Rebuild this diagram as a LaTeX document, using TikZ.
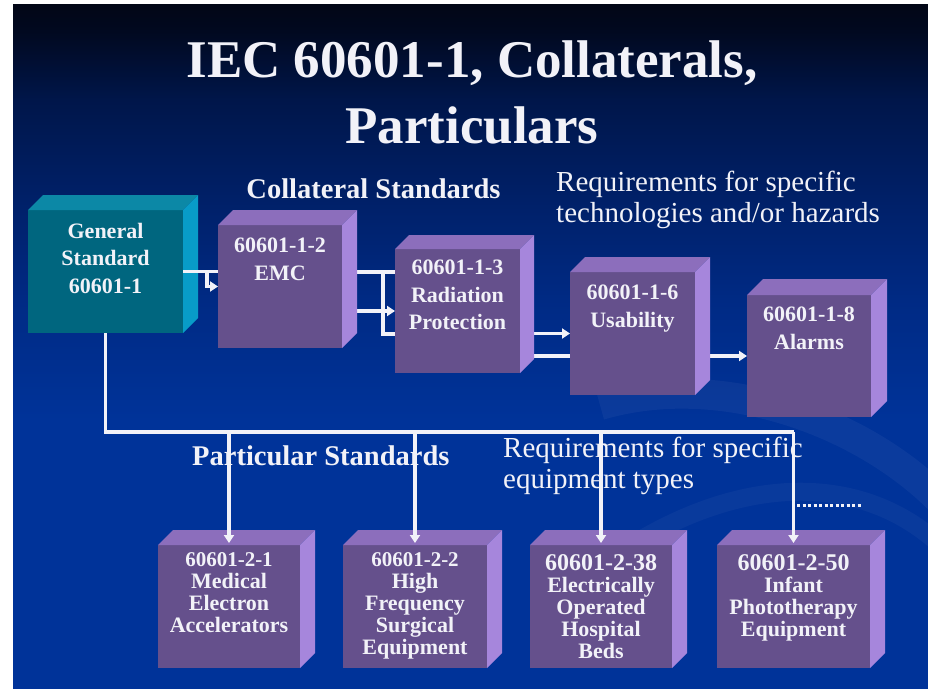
\documentclass[tikz,border=0pt]{standalone}
\usepackage{fontspec}
\setmainfont{Liberation Serif}
\usetikzlibrary{arrows.meta,calc}
\pgfdeclarelayer{backlayer}
\pgfdeclarelayer{connlayer}
\pgfsetlayers{backlayer,connlayer,main}
\definecolor{bgA}{RGB}{0,51,153}
\definecolor{bgB}{RGB}{0,42,132}
\definecolor{bgC}{RGB}{0,32,104}
\definecolor{bgD}{RGB}{0,22,74}
\definecolor{bgE}{RGB}{1,9,32}
\definecolor{bgF}{RGB}{2,6,22}
\definecolor{tealfront}{RGB}{0,102,127}
\definecolor{tealtop}{RGB}{12,136,166}
\definecolor{tealside}{RGB}{8,156,200}
\definecolor{purpfront}{RGB}{101,80,140}
\definecolor{purptop}{RGB}{140,110,188}
\definecolor{purpside}{RGB}{166,134,220}
\definecolor{txtwhite}{RGB}{242,242,248}
\pgfdeclareverticalshading{slidebg}{100bp}{color(0bp)=(bgA); color(44.6bp)=(bgA); color(53.4bp)=(bgB); color(60.7bp)=(bgC); color(68bp)=(bgD); color(73bp)=(bgE); color(75bp)=(bgF); color(100bp)=(bgF)}
\newcommand\mycube[7]{%
  \node[face, fill=#7front, minimum width=#4pt, minimum height=#5pt, anchor=north west] (#1) at (#2,#3) {};
  \fill[#7top] (#1.north west) -- ++(#6,-#6) -- ([shift={(#6,-#6)}]#1.north east) -- (#1.north east) -- cycle;
  \fill[#7side] (#1.north east) -- ++(#6,-#6) -- ([shift={(#6,-#6)}]#1.south east) -- (#1.south east) -- cycle;
}
\begin{document}
\begin{tikzpicture}[x=1pt,y=-1pt,
  face/.style={draw=none, inner sep=0pt, outer sep=0pt},
  conn/.style={draw=txtwhite, line width=3.5pt},
  arr/.style={-{Triangle[length=8pt,width=10pt]}},
  dots/.style={draw=txtwhite, line width=3pt, dash pattern=on 3pt off 2.5pt},
  boxtxt/.style={text=txtwhite, font=\bfseries\fontsize{22}{27.5}\selectfont, align=center, anchor=north, inner sep=0pt},
  btxt/.style={text=txtwhite, font=\bfseries\fontsize{22}{22}\selectfont, align=center, anchor=north, inner sep=0pt},
  headtxt/.style={text=txtwhite, font=\bfseries\fontsize{28.5}{30}\selectfont, inner sep=0pt},
  reqtxt/.style={text=txtwhite, font=\fontsize{29}{31.5}\selectfont, align=left, anchor=north west, inner sep=0pt},
  titletxt/.style={text=txtwhite, font=\bfseries\fontsize{53}{60}\selectfont, inner sep=0pt, anchor=base}]
\useasboundingbox (0,0) rectangle (928,688);
\begin{pgfonlayer}{backlayer}
\fill[white] (0,0) rectangle (928,688);
\shade[shading=slidebg] (13,4) rectangle (928,688);
\begin{scope}
\clip (13,4) rectangle (928,688);
\draw[white, opacity=0.045, line width=30pt] (600,405) .. controls (720,370) and (860,420) .. (940,500);
\draw[white, opacity=0.035, line width=18pt] (640,540) .. controls (760,470) and (870,480) .. (940,545);
\end{scope}
\end{pgfonlayer}
% title
\node[titletxt] (t1) at (472,77) {IEC 60601-1, Collaterals,};
\node[titletxt] (t2) at (472,143) {Particulars};
% cubes
\mycube{gen}{28}{210}{155}{123}{15}{teal}
\mycube{emc}{218}{225}{124}{123}{15}{purp}
\mycube{rad}{395}{249}{125}{124}{14}{purp}
\mycube{usa}{570}{272}{125}{123}{15}{purp}
\mycube{alm}{747}{295}{124}{122}{16}{purp}
\mycube{p1}{158}{545}{142}{123}{15}{purp}
\mycube{p2}{343}{545}{144}{123}{15}{purp}
\mycube{p3}{530}{545}{142}{123}{15}{purp}
\mycube{p4}{717}{545}{153}{123}{15}{purp}
% top-row connectors, behind the cubes
\begin{pgfonlayer}{connlayer}
\coordinate (ra) at ($(rad.north west)+(0,23)$);
\draw[conn] (emc.east |- ra) -- (ra);
\draw[conn] ($(ra)+(-12,0)$) |- ($(rad.west)+(0,23)$);
\draw[conn,arr] (emc.east |- rad.west) -- (rad.west);
\draw[conn,arr] (rad.east |- usa.west) -- (usa.west);
\draw[conn] ($(rad.east |- usa.west)+(0,22.5)$) -- ($(usa.west)+(0,22.5)$);
\draw[conn,arr] (usa.east |- alm.west) -- (alm.west);
\end{pgfonlayer}
% general -> EMC, in front of the general cube's side
\draw[conn] (gen.east) -- (gen.east -| emc.west);
\draw[conn,arr] ($(gen.east)+(24,0)$) |- (emc.west);
% bus and drops
\coordinate (bus) at ($(gen.south)+(0,99)$);
\draw[conn, line join=miter] (gen.south) -- (bus) -- (bus -| p4.north);
\foreach \p in {p1,p2,p3,p4} \draw[conn,arr] (bus -| \p.north) -- ($(\p.north)+(0,-2)$);
\coordinate (dA) at (797,505);
\coordinate (dB) at (861,505);
\draw[dots] (dA) -- (dB);
% headings
\node[headtxt, anchor=base] (colh) at (373.5,198) {Collateral Standards};
\node[headtxt, anchor=base west] (parh) at (192,465) {Particular Standards};
\node[reqtxt] (req1) at (556,170.5) {Requirements for specific\\technologies and/or hazards};
\node[reqtxt] (req2) at (503,436.5) {Requirements for specific\\equipment types};
% box texts
\node[boxtxt] (gent) at (105.5,223) {General\\Standard\\60601-1};
\node[boxtxt] (emct) at (280,238) {60601-1-2\\EMC};
\node[boxtxt] (radt) at (457.5,260) {60601-1-3\\Radiation\\Protection};
\node[boxtxt] (usat) at (632.5,285) {60601-1-6\\Usability};
\node[boxtxt] (almt) at (809,307) {60601-1-8\\Alarms};
\node[btxt] (p1t) at (229,552) {{\fontsize{21}{22}\selectfont 60601-2-1}\\Medical\\Electron\\Accelerators};
\node[btxt] (p2t) at (415,552) {{\fontsize{21}{22}\selectfont 60601-2-2}\\High\\Frequency\\Surgical\\Equipment};
\node[btxt] (p3t) at (601,554) {{\fontsize{24}{22}\selectfont 60601-2-38}\\Electrically\\Operated\\Hospital\\Beds};
\node[btxt] (p4t) at (793.5,554) {{\fontsize{24}{22}\selectfont 60601-2-50}\\Infant\\Phototherapy\\Equipment};
\end{tikzpicture}
\end{document}
